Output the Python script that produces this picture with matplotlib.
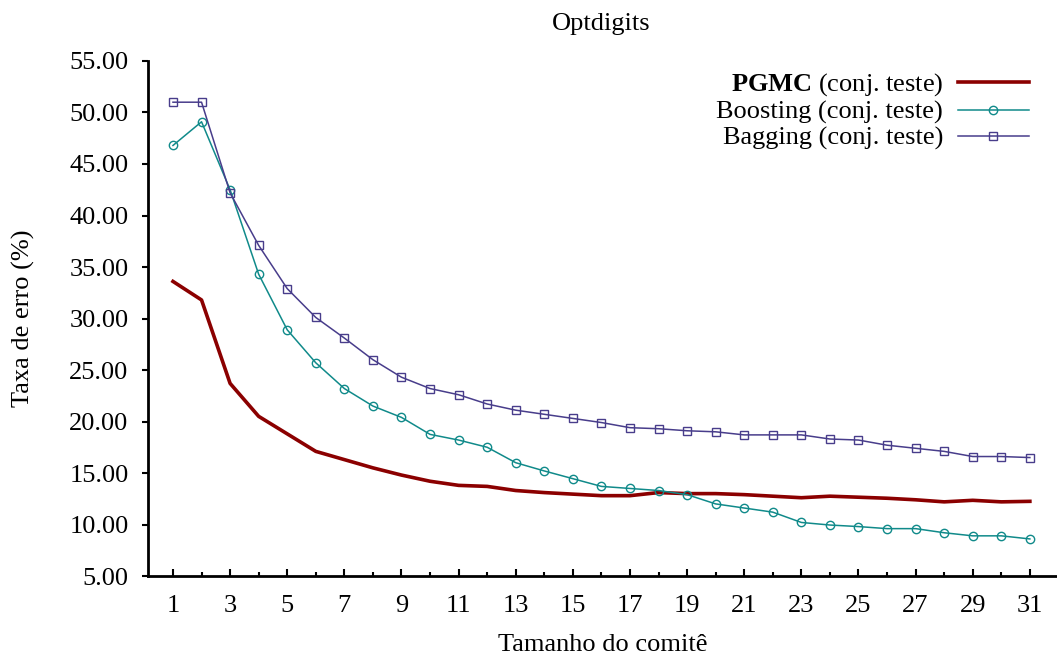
import matplotlib
matplotlib.use("Agg")
import matplotlib.pyplot as plt
from matplotlib.ticker import MultipleLocator, FormatStrFormatter

plt.rcParams['font.family'] = ['Liberation Serif', 'DejaVu Serif']
plt.rcParams['mathtext.fontset'] = 'custom'
plt.rcParams['mathtext.rm'] = 'Liberation Serif'
plt.rcParams['mathtext.bf'] = 'Liberation Serif:bold'

# tamanho do comite 1..31
comite = list(range(1, 32))

# taxa de erro (%)
pgmc = [33.6, 31.8, 23.7, 20.5, 18.8, 17.1, 16.3, 15.5, 14.8, 14.2,
        13.8, 13.7, 13.3, 13.1, 12.95, 12.8, 12.8, 13.1, 13.0, 13.0,
        12.9, 12.75, 12.6, 12.75, 12.65, 12.55, 12.4, 12.2, 12.35, 12.2,
        12.25]
boosting = [46.8, 49.1, 42.5, 34.3, 28.9, 25.7, 23.2, 21.5, 20.4, 18.75,
            18.2, 17.5, 16.0, 15.2, 14.45, 13.7, 13.5, 13.3, 12.9, 12.0,
            11.6, 11.2, 10.2, 9.95, 9.8, 9.6, 9.6, 9.2, 8.9, 8.9,
            8.6]
bagging = [51.0, 51.0, 42.2, 37.1, 32.9, 30.1, 28.1, 26.0, 24.3, 23.2,
           22.6, 21.7, 21.1, 20.7, 20.3, 19.9, 19.4, 19.3, 19.1, 19.0,
           18.7, 18.7, 18.7, 18.3, 18.2, 17.7, 17.4, 17.1, 16.6, 16.6,
           16.5]

fs = 19

fig = plt.figure(figsize=(10.57, 6.58), dpi=100)
ax = fig.add_axes([0.140, 0.1246, 0.860, 0.7827])

ax.plot(comite, pgmc, color="#8b0000", linewidth=2.6,
        label=r"$\mathbf{PGMC}$ (conj. teste)")
ax.plot(comite, boosting, color="#108a8a", linewidth=1.1, marker="o",
        markersize=6, markerfacecolor="none", markeredgewidth=1.0,
        label="Boosting (conj. teste)")
ax.plot(comite, bagging, color="#483d8b", linewidth=1.1, marker="s",
        markersize=6, markerfacecolor="none", markeredgewidth=1.0,
        label="Bagging (conj. teste)")

ax.set_xlim(0.125, 31.95)
ax.set_ylim(5, 55)

ax.spines["top"].set_visible(False)
ax.spines["right"].set_visible(False)
ax.spines["left"].set_linewidth(2.0)
ax.spines["bottom"].set_linewidth(2.0)

ax.set_xticks(range(1, 32, 2))
ax.xaxis.set_minor_locator(MultipleLocator(1))
ax.yaxis.set_major_locator(MultipleLocator(5))
ax.yaxis.set_major_formatter(FormatStrFormatter("%.2f"))

ax.tick_params(axis="x", which="major", direction="in", length=5, width=1.5,
               pad=14, labelsize=fs)
ax.tick_params(axis="x", which="minor", direction="in", length=3, width=1.5)
ax.tick_params(axis="y", which="major", direction="out", length=4, width=1.5,
               pad=10, labelsize=fs)

ax.set_xlabel("Tamanho do comitê", fontsize=fs, labelpad=12)
ax.set_ylabel("Taxa de erro (%)", fontsize=fs, labelpad=25)
fig.text(0.569, 0.963, "Optdigits", ha="center", va="center", fontsize=fs)

ax.legend(loc="upper right", bbox_to_anchor=(0.975, 0.99), frameon=False,
          markerfirst=False, fontsize=fs, handlelength=2.7, labelspacing=0.08,
          handletextpad=0.55, borderpad=0.2, borderaxespad=0.0)

plt.savefig("out.png", dpi=100)
